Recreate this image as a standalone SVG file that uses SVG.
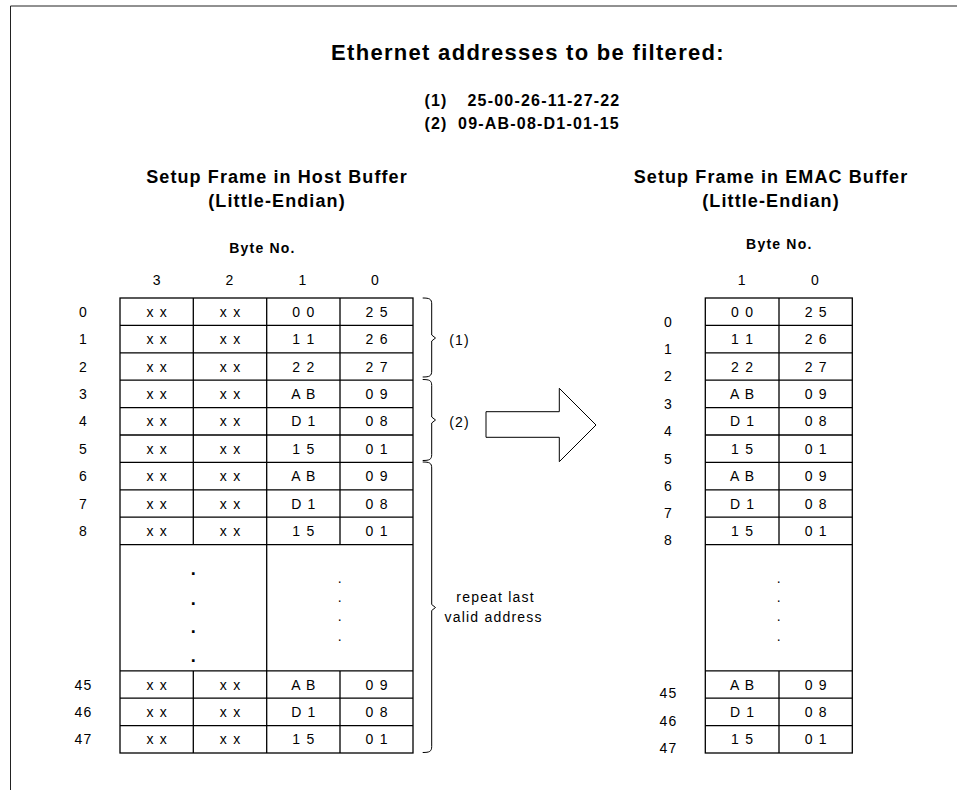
<svg xmlns="http://www.w3.org/2000/svg" width="957" height="790" viewBox="0 0 957 790">
<style>
text{font-family:"Liberation Sans",Arial,sans-serif;fill:#000;text-anchor:middle}
.r{font-size:14px;letter-spacing:1.2px}
.b{font-weight:bold;letter-spacing:1.2px}
.dt{font-size:14px}
.bd{font-size:18px;font-weight:bold}
.ln{fill:none;stroke:#000;stroke-width:1.3}
.br{fill:none;stroke:#000;stroke-width:1}
</style>
<rect x="0" y="0" width="957" height="790" fill="#fff"/>
<path d="M10.5,790 V6 H957" fill="none" stroke="#222" stroke-width="1"/>

<g id="title">
<text class="b" x="528" y="60" style="font-size:22px;letter-spacing:1.3px">Ethernet addresses to be filtered:</text>
<text class="b" x="436" y="106" style="font-size:16px">(1)</text>
<text class="b" x="544" y="106" style="font-size:16px">25-00-26-11-27-22</text>
<text class="b" x="436" y="129" style="font-size:16px">(2)</text>
<text class="b" x="539" y="129" style="font-size:16px">09-AB-08-D1-01-15</text>
</g>

<g id="host-buffer">
<text class="b" x="277" y="182.5" style="font-size:18px;letter-spacing:1.1px">Setup Frame in Host Buffer</text>
<text class="b" x="277" y="207" style="font-size:18px;letter-spacing:1.1px">(Little-Endian)</text>
<text class="b" x="262.5" y="253.3" style="font-size:14px">Byte No.</text>
<text class="r" x="157.3" y="284.5">3</text>
<text class="r" x="229.9" y="284.5">2</text>
<text class="r" x="302.9" y="284.5">1</text>
<text class="r" x="375.6" y="284.5">0</text>
<rect class="ln" x="120" y="298" width="293" height="455"/>
<path class="ln" d="M120,325.4H413M120,352.8H413M120,380.2H413M120,407.6H413M120,435H413M120,462.4H413M120,489.8H413M120,517.2H413M120,544.6H413M120,670.8H413M120,698.2H413M120,725.6H413M193.3,298V544.6M340,298V544.6M193.3,670.8V753M340,670.8V753M266.7,298V753"/>
<g class="r">
<text x="83.6" y="316.7">0</text><text x="157.3" y="316.7">x x</text><text x="230.6" y="316.7">x x</text><text x="303.9" y="316.7">0 0</text><text x="377.1" y="316.7">2 5</text>
<text x="83.6" y="344.1">1</text><text x="157.3" y="344.1">x x</text><text x="230.6" y="344.1">x x</text><text x="303.9" y="344.1">1 1</text><text x="377.1" y="344.1">2 6</text>
<text x="83.6" y="371.5">2</text><text x="157.3" y="371.5">x x</text><text x="230.6" y="371.5">x x</text><text x="303.9" y="371.5">2 2</text><text x="377.1" y="371.5">2 7</text>
<text x="83.6" y="398.9">3</text><text x="157.3" y="398.9">x x</text><text x="230.6" y="398.9">x x</text><text x="303.9" y="398.9">A B</text><text x="377.1" y="398.9">0 9</text>
<text x="83.6" y="426.3">4</text><text x="157.3" y="426.3">x x</text><text x="230.6" y="426.3">x x</text><text x="303.9" y="426.3">D 1</text><text x="377.1" y="426.3">0 8</text>
<text x="83.6" y="453.7">5</text><text x="157.3" y="453.7">x x</text><text x="230.6" y="453.7">x x</text><text x="303.9" y="453.7">1 5</text><text x="377.1" y="453.7">0 1</text>
<text x="83.6" y="481.1">6</text><text x="157.3" y="481.1">x x</text><text x="230.6" y="481.1">x x</text><text x="303.9" y="481.1">A B</text><text x="377.1" y="481.1">0 9</text>
<text x="83.6" y="508.5">7</text><text x="157.3" y="508.5">x x</text><text x="230.6" y="508.5">x x</text><text x="303.9" y="508.5">D 1</text><text x="377.1" y="508.5">0 8</text>
<text x="83.6" y="535.9">8</text><text x="157.3" y="535.9">x x</text><text x="230.6" y="535.9">x x</text><text x="303.9" y="535.9">1 5</text><text x="377.1" y="535.9">0 1</text>
<text x="83.6" y="689.5">45</text><text x="157.3" y="689.5">x x</text><text x="230.6" y="689.5">x x</text><text x="303.9" y="689.5">A B</text><text x="377.1" y="689.5">0 9</text>
<text x="83.6" y="716.9">46</text><text x="157.3" y="716.9">x x</text><text x="230.6" y="716.9">x x</text><text x="303.9" y="716.9">D 1</text><text x="377.1" y="716.9">0 8</text>
<text x="83.6" y="744.3">47</text><text x="157.3" y="744.3">x x</text><text x="230.6" y="744.3">x x</text><text x="303.9" y="744.3">1 5</text><text x="377.1" y="744.3">0 1</text>
</g>
<g class="bd">
<text x="193.3" y="575">.</text><text x="193.3" y="604.7">.</text><text x="193.3" y="633.4">.</text><text x="193.3" y="661.7">.</text>
</g>
<g class="dt">
<text x="339.8" y="583">.</text><text x="339.8" y="602">.</text><text x="339.8" y="621.3">.</text><text x="339.8" y="640.6">.</text>
</g>
</g>

<g id="emac-buffer">
<text class="b" x="771" y="182.5" style="font-size:18px;letter-spacing:1.1px">Setup Frame in EMAC Buffer</text>
<text class="b" x="771" y="207" style="font-size:18px;letter-spacing:1.1px">(Little-Endian)</text>
<text class="b" x="779.3" y="248.7" style="font-size:14px">Byte No.</text>
<text class="r" x="742.3" y="284.5">1</text>
<text class="r" x="815.6" y="284.5">0</text>
<rect class="ln" x="705.3" y="298" width="147" height="455"/>
<path class="ln" d="M705.3,325.4H852.3M705.3,352.8H852.3M705.3,380.2H852.3M705.3,407.6H852.3M705.3,435H852.3M705.3,462.4H852.3M705.3,489.8H852.3M705.3,517.2H852.3M705.3,544.6H852.3M705.3,670.8H852.3M705.3,698.2H852.3M705.3,725.6H852.3M779,298V544.6M779,670.8V753"/>
<g class="r">
<text x="668.6" y="326.5">0</text><text x="742.6" y="316.7">0 0</text><text x="816.3" y="316.7">2 5</text>
<text x="668.6" y="353.9">1</text><text x="742.6" y="344.1">1 1</text><text x="816.3" y="344.1">2 6</text>
<text x="668.6" y="381.3">2</text><text x="742.6" y="371.5">2 2</text><text x="816.3" y="371.5">2 7</text>
<text x="668.6" y="408.7">3</text><text x="742.6" y="398.9">A B</text><text x="816.3" y="398.9">0 9</text>
<text x="668.6" y="436.1">4</text><text x="742.6" y="426.3">D 1</text><text x="816.3" y="426.3">0 8</text>
<text x="668.6" y="463.5">5</text><text x="742.6" y="453.7">1 5</text><text x="816.3" y="453.7">0 1</text>
<text x="668.6" y="490.9">6</text><text x="742.6" y="481.1">A B</text><text x="816.3" y="481.1">0 9</text>
<text x="668.6" y="518.3">7</text><text x="742.6" y="508.5">D 1</text><text x="816.3" y="508.5">0 8</text>
<text x="668.6" y="545.2">8</text><text x="742.6" y="535.9">1 5</text><text x="816.3" y="535.9">0 1</text>
<text x="668.6" y="698">45</text><text x="742.6" y="689.5">A B</text><text x="816.3" y="689.5">0 9</text>
<text x="668.6" y="725.7">46</text><text x="742.6" y="716.9">D 1</text><text x="816.3" y="716.9">0 8</text>
<text x="668.6" y="753.3">47</text><text x="742.6" y="744.3">1 5</text><text x="816.3" y="744.3">0 1</text>
</g>
<g class="dt">
<text x="778.8" y="583">.</text><text x="778.8" y="602">.</text><text x="778.8" y="621.3">.</text><text x="778.8" y="640.6">.</text>
</g>
</g>

<g id="labels">
<text class="r" x="459.6" y="345">(1)</text>
<text class="r" x="459.6" y="427">(2)</text>
<text class="r" x="495.6" y="602">repeat last</text>
<text class="r" x="493.6" y="621.5">valid address</text>
</g>

<g id="connectors">
<path class="br" d="M422.7,298 C429.5,298 431.7,299 431.7,304 V335 L435.5,338 L431.7,341 V371 C431.7,376 429.5,377 422.7,377"/>
<path class="br" d="M422.7,379.5 C429.5,379.5 431.7,380.5 431.7,385.5 V417 L435.5,420 L431.7,423 V454.5 C431.7,459.5 429.5,460.5 422.7,460.5"/>
<path class="br" d="M422.7,462 C429.5,462 431.7,463 431.7,468 V604.5 L435.5,607.5 L431.7,610.5 V746.5 C431.7,751.5 429.5,752.5 422.7,752.5"/>
<polygon points="486,411.7 559.3,411.7 559.3,388.3 596,425 559.3,461.7 559.3,437.3 486,437.3" fill="#fff" stroke="#000" stroke-width="1"/>
</g>
</svg>
